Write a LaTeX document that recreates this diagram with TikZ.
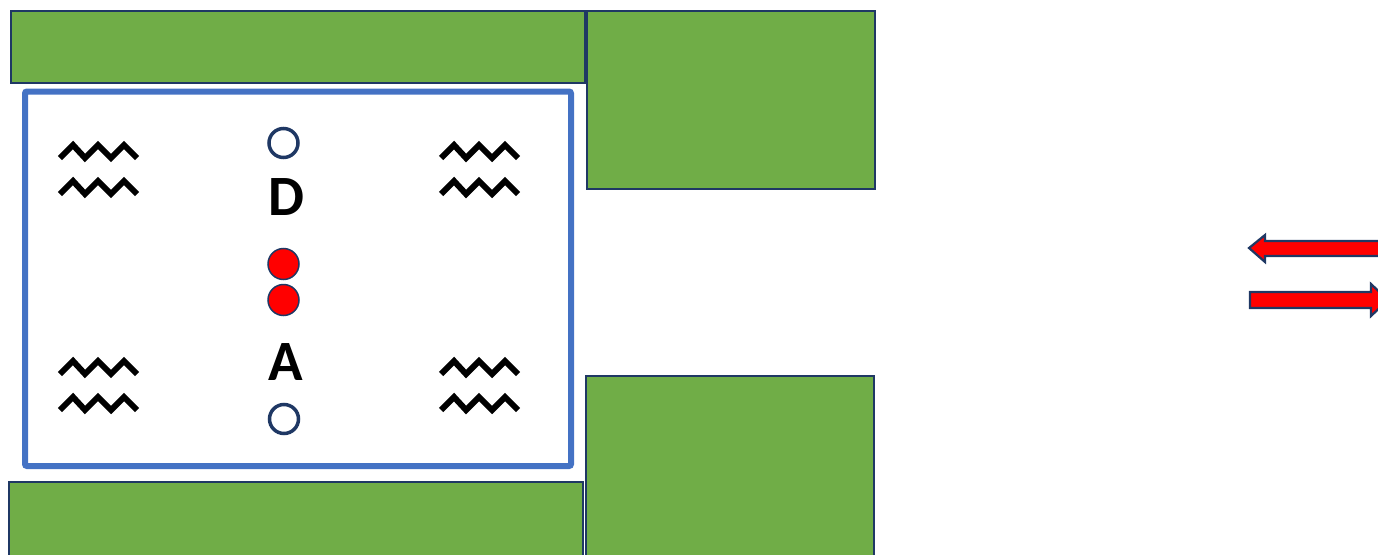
\documentclass[tikz,border=0pt]{standalone}
\usepackage{fontspec}
\newfontfamily\labelfont{Carlito}
\definecolor{grassgreen}{HTML}{70AD47}
\definecolor{navyedge}{HTML}{1F3864}
\definecolor{boxblue}{HTML}{4472C4}
\definecolor{arrowred}{HTML}{FF0000}
\tikzset{
  block/.style={fill=grassgreen, draw=navyedge, line width=2pt},
  frame/.style={draw=boxblue, line width=6pt, rounded corners=2pt},
  ring/.style={circle, draw=navyedge, line width=3.5pt, fill=white, minimum size=29pt, inner sep=0pt},
  ball/.style={circle, draw=navyedge, line width=1.5pt, fill=arrowred, minimum size=31pt, inner sep=0pt},
  letter/.style={font=\labelfont\bfseries\fontsize{57}{60}\selectfont, inner sep=0pt},
  fatarrow/.style={fill=arrowred, draw=navyedge, line width=2.2pt, line join=miter},
  zig/.pic={
    \draw[line width=6pt, line join=miter, miter limit=10]
      (0,0) -- (13,-13) -- (25,0) -- (38,-13) -- (51,0) -- (64,-13) -- (77,0);
    \draw[line width=6pt, line join=miter, miter limit=10]
      (0,36) -- (13,23) -- (25,36) -- (38,23) -- (51,36) -- (64,23) -- (77,36);
  }
}
\begin{document}
\begin{tikzpicture}[x=1pt, y=-1pt]
\useasboundingbox (0,0) rectangle (1378,554);
\begin{scope}
\clip (0,0) rectangle (1378,554);
% green walls
\draw[block] (10.5,10.5) rectangle (585,82.5);
\draw[block] (587,10.5) rectangle (875,189);
\draw[block] (8.5,482) rectangle (583,570);
\draw[block] (586,376) rectangle (873.5,570);
% blue chamber
\draw[frame] (25,91.5) rectangle (571,466);
% zigzags
\pic at (60,158) {zig};
\pic at (441,158) {zig};
\pic at (60,374) {zig};
\pic at (441,374) {zig};
% circles and letters
\node[ring] (topring) at (283.5,143) {};
\node[letter] (dlabel) at (286,197) {D};
\node[ball] (ballone) at (283.5,264) {};
\node[ball] (balltwo) at (283.5,300) {};
\node[letter] (alabel) at (286,362) {A};
\node[ring] (botring) at (284,419) {};
% arrows
\draw[fatarrow] (1249,248) -- (1265,235) -- (1265,241) -- (1390,241) -- (1390,256) -- (1265,256) -- (1265,262) -- cycle;
\draw[fatarrow] (1250,292) -- (1371,292) -- (1371,284) -- (1388,300) -- (1371,316) -- (1371,308) -- (1250,308) -- cycle;
\end{scope}
\end{tikzpicture}
\end{document}
